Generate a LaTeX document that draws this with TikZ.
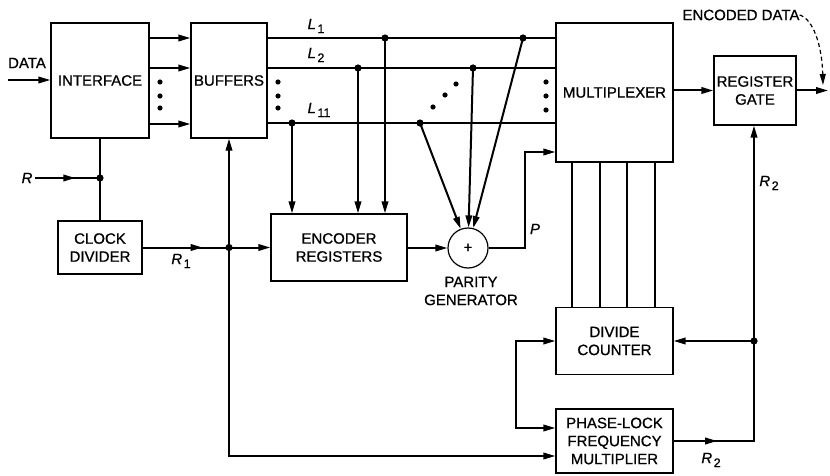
\documentclass[tikz,border=0pt]{standalone}
\usepackage{fontspec}
\setmainfont{Liberation Sans}[FakeBold=0.8]
\usetikzlibrary{arrows.meta,decorations.markings}
\newcommand\lblfont{\fontsize{15}{18}\selectfont}
\newcommand\lowsub[1]{\hspace{1.5pt}\raisebox{-0.5ex}{\fontsize{12.5}{12.5}\selectfont\upshape #1}}
\begin{document}
\begin{tikzpicture}[x=1pt,y=-1pt,
  box/.style={draw,line width=1.2pt,inner sep=0pt,align=center,font=\lblfont},
  conn/.style={line width=2pt},
  thin/.style={line width=1.6pt},
  arr/.style={-{Triangle[length=12pt,width=6.5pt]}},
  darr/.style={{Triangle[length=12pt,width=6.5pt]}-{Triangle[length=12pt,width=6.5pt]}},
  midarr/.style={postaction={decorate},decoration={markings,mark=at position #1 with {\arrow{Triangle[length=12pt,width=6.5pt]}}}},
  lbl/.style={font=\lblfont,inner sep=0pt},
  ilbl/.style={font=\lblfont\itshape,inner sep=0pt}]
\useasboundingbox (0,0) rectangle (830,476);

% boxes
\node[box,minimum width=98pt,minimum height=115pt] (iface) at (100,80.5) {INTERFACE};
\node[box,minimum width=76pt,minimum height=115pt] (buf) at (229,80.5) {BUFFERS};
\node[box,minimum width=117pt,minimum height=139pt] (mux) at (614.5,92.5) {MULTIPLEXER};
\node[box,minimum width=82pt,minimum height=69pt] (gate) at (755,90.5) {REGISTER\\GATE};
\node[box,minimum width=84pt,minimum height=53pt] (clk) at (100,247.5) {CLOCK\\DIVIDER};
\node[box,minimum width=136pt,minimum height=67pt] (enc) at (339,247.5) {ENCODER\\REGISTERS};
\node[draw,circle,line width=1.2pt,minimum size=40pt,inner sep=0pt,font=\lblfont] (par) at (468,248) {+};
\node[lbl,align=center] (partxt) at (471,291) {PARITY\\GENERATOR};
\node[box,minimum width=117pt,minimum height=67pt] (div) at (614.5,341) {DIVIDE\\COUNTER};
\node[box,minimum width=117pt,minimum height=64pt] (pll) at (614.5,441) {PHASE-LOCK\\FREQUENCY\\MULTIPLIER};

% DATA input
\coordinate (din) at (8,80);
\node[lbl] (datatxt) at (27,63) {DATA};
\draw[conn,arr] (din) -- (iface.west |- din);

% interface -> buffers
\foreach \y in {38,68,124} \draw[conn,arr] (iface.east |- 0,\y) -- (buf.west |- 0,\y);
\foreach \y in {82,96,108} \fill (160,\y) circle (2.6);

% L lines
\foreach \y in {38,68,123} \draw[conn] (buf.east |- 0,\y) -- (mux.west |- 0,\y);
\foreach \y in {82,96,108} \fill (278,\y) circle (2.6);
\foreach \y in {82,96,110} \fill (546,\y) circle (2.6);
\fill (433,107) circle (2.6) (445,95) circle (2.6) (456,84) circle (2.6);
\node[ilbl] (l1) at (316,26) {L\lowsub{1}};
\node[ilbl] (l2) at (316,55) {L\lowsub{2}};
\node[ilbl] (l11) at (319,110) {L\lowsub{11}};

% junctions on L lines
\coordinate (a1) at (385,38);
\coordinate (b1) at (523,38);
\coordinate (a2) at (358,68);
\coordinate (b2) at (473,68);
\coordinate (a11) at (292,123);
\coordinate (b11) at (420,123);
\foreach \c in {a1,b1,a2,b2,a11,b11} \fill (\c) circle (3.6);

\draw[conn,arr] (a11) -- (a11 |- enc.north);
\draw[conn,arr] (a2) -- (a2 |- enc.north);
\draw[conn,arr] (a1) -- (a1 |- enc.north);
\draw[conn,arr] (b11) -- (par);
\draw[conn,arr] (b2) -- (par);
\draw[conn,arr] (b1) -- (par);

% encoder -> parity -> mux
\draw[conn,arr] (enc.east |- par) -- (par.west);
\coordinate (pup) at (525,152);
\draw[conn,arr] (par.east) -| (pup) -- (mux.west |- pup);
\node[ilbl] (ptxt) at (535,229) {P};

% mux -> gate -> out
\draw[conn,arr] (mux.east |- gate.west) -- (gate.west);
\coordinate (dout) at (828,90.5);
\draw[conn,arr] (gate.east) -- (dout);
\node[lbl] (enctxt) at (741,15) {ENCODED DATA};
\coordinate (enctip) at (823,85);
\draw[line width=1.2pt,dash pattern=on 4pt off 3pt,-{Triangle[length=11pt,width=6pt]}] (enctxt.east) .. controls (813,19) and (822,45) .. (enctip);

% mux -> divide counter
\foreach \dx in {-42.5,-14.5,12.5,40.5} \draw[thin] ([xshift=\dx pt]mux.south) -- ([xshift=\dx pt]div.north);

% R2 loop
\coordinate (r2c) at (754,441);
\coordinate (r2j) at (754,341);
\draw[conn,arr,midarr=0.11] (pll.east) -- (r2c) -- (r2j |- gate.south);
\fill (r2j) circle (3.6);
\draw[conn,arr] (r2j) -- (div.east |- r2j);
\node[ilbl] (r2top) at (769,183) {R\lowsub{2}};
\node[ilbl] (r2bot) at (711,460) {R\lowsub{2}};

% left loop divide counter / PLL
\coordinate (lp1) at (516,341);
\coordinate (lp2) at (516,428);
\draw[conn,darr] (div.west |- lp1) -- (lp1) -- (lp2) -- (pll.west |- lp2);

% interface -> clock divider, R input
\draw[conn] (iface.south) -- (iface.south |- clk.north);
\coordinate (rin) at (35,178);
\coordinate (jr) at (100,178);
\draw[conn,midarr=0.62] (rin) -- (jr);
\fill (jr) circle (3.6);
\node[ilbl] (rtxt) at (27,178) {R};

% R1
\coordinate (j1) at (229,247.5);
\draw[conn,arr,midarr=0.47] (clk.east) -- (j1) -- (enc.west);
\fill (j1) circle (3.6);
\node[ilbl] (r1txt) at (181,261) {R\lowsub{1}};
\coordinate (bl) at (229,456);
\draw[conn,darr] (buf.south) -- (bl) -- (pll.west |- bl);
\end{tikzpicture}
\end{document}
